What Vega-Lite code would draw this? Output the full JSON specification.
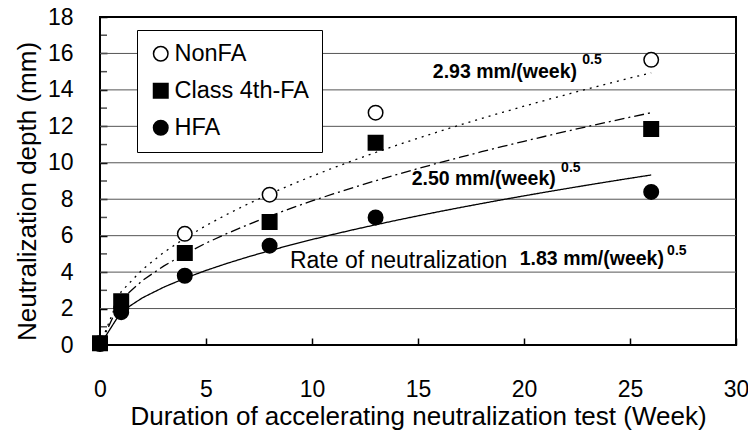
{
  "$schema": "https://vega.github.io/schema/vega-lite/v6.json",
  "autosize": "none",
  "width": 636,
  "height": 328,
  "padding": {"left": 100, "top": 17, "right": 12, "bottom": 87},
  "background": "white",
  "config": {
    "font": "Liberation Sans",
    "view": {"stroke": "black", "strokeWidth": 2},
    "axis": {
      "labelColor": "black",
      "titleColor": "black",
      "titleFontWeight": "normal",
      "domain": false,
      "tickColor": "black",
      "labelOverlap": false
    }
  },
  "resolve": {"scale": {"y": "shared", "x": "shared"}, "axis": {"y": "independent"}},
  "datasets": {
    "measured": [
      {"week": 0, "mix": "NonFA", "depth": 0.1},
      {"week": 1, "mix": "NonFA", "depth": 2.0},
      {"week": 4, "mix": "NonFA", "depth": 6.1},
      {"week": 8, "mix": "NonFA", "depth": 8.25},
      {"week": 13, "mix": "NonFA", "depth": 12.75},
      {"week": 26, "mix": "NonFA", "depth": 15.65},
      {"week": 0, "mix": "Class 4th-FA", "depth": 0.1},
      {"week": 1, "mix": "Class 4th-FA", "depth": 2.4},
      {"week": 4, "mix": "Class 4th-FA", "depth": 5.05},
      {"week": 8, "mix": "Class 4th-FA", "depth": 6.75},
      {"week": 13, "mix": "Class 4th-FA", "depth": 11.1},
      {"week": 26, "mix": "Class 4th-FA", "depth": 11.85},
      {"week": 0, "mix": "HFA", "depth": 0.05},
      {"week": 1, "mix": "HFA", "depth": 1.8},
      {"week": 4, "mix": "HFA", "depth": 3.8},
      {"week": 8, "mix": "HFA", "depth": 5.45},
      {"week": 13, "mix": "HFA", "depth": 7.0},
      {"week": 26, "mix": "HFA", "depth": 8.4}
    ],
    "fitted": [
      {"week": 0, "r293": 0, "r250": 0, "r183": 0},
      {"week": 1, "r293": 2.93, "r250": 2.5, "r183": 1.83},
      {"week": 2, "r293": 4.144, "r250": 3.536, "r183": 2.588},
      {"week": 3, "r293": 5.075, "r250": 4.33, "r183": 3.17},
      {"week": 4, "r293": 5.86, "r250": 5.0, "r183": 3.66},
      {"week": 5, "r293": 6.552, "r250": 5.59, "r183": 4.092},
      {"week": 6, "r293": 7.177, "r250": 6.124, "r183": 4.482},
      {"week": 7, "r293": 7.752, "r250": 6.614, "r183": 4.842},
      {"week": 8, "r293": 8.287, "r250": 7.071, "r183": 5.176},
      {"week": 9, "r293": 8.79, "r250": 7.5, "r183": 5.49},
      {"week": 10, "r293": 9.266, "r250": 7.906, "r183": 5.787},
      {"week": 11, "r293": 9.718, "r250": 8.292, "r183": 6.07},
      {"week": 12, "r293": 10.15, "r250": 8.66, "r183": 6.339},
      {"week": 13, "r293": 10.564, "r250": 9.014, "r183": 6.598},
      {"week": 14, "r293": 10.963, "r250": 9.354, "r183": 6.847},
      {"week": 15, "r293": 11.348, "r250": 9.682, "r183": 7.088},
      {"week": 16, "r293": 11.72, "r250": 10.0, "r183": 7.32},
      {"week": 17, "r293": 12.081, "r250": 10.308, "r183": 7.545},
      {"week": 18, "r293": 12.431, "r250": 10.607, "r183": 7.763},
      {"week": 19, "r293": 12.772, "r250": 10.897, "r183": 7.977},
      {"week": 20, "r293": 13.103, "r250": 11.18, "r183": 8.184},
      {"week": 21, "r293": 13.427, "r250": 11.456, "r183": 8.386},
      {"week": 22, "r293": 13.743, "r250": 11.726, "r183": 8.583},
      {"week": 23, "r293": 14.052, "r250": 11.99, "r183": 8.776},
      {"week": 24, "r293": 14.354, "r250": 12.247, "r183": 8.965},
      {"week": 25, "r293": 14.65, "r250": 12.5, "r183": 9.15},
      {"week": 26, "r293": 14.94, "r250": 12.748, "r183": 9.331}
    ],
    "gridlines": [
      {"depth": 2}, {"depth": 4}, {"depth": 6}, {"depth": 8},
      {"depth": 10}, {"depth": 12}, {"depth": 14}, {"depth": 16}
    ],
    "minorTicks": [
      {"depth": 1}, {"depth": 3}, {"depth": 5}, {"depth": 7}, {"depth": 9},
      {"depth": 11}, {"depth": 13}, {"depth": 15}, {"depth": 17}
    ]
  },
  "layer": [
    {
      "data": {"name": "gridlines"},
      "mark": {"type": "rule", "color": "#555555", "strokeWidth": 1},
      "encoding": {
        "y": {
          "field": "depth",
          "type": "quantitative",
          "scale": {"domain": [0, 18], "nice": false},
          "axis": {
            "orient": "left",
            "values": [2, 6, 10, 14, 18],
            "labelOverlap": false,
            "grid": false,
            "tickSize": -7,
            "tickWidth": 1.5,
            "labelFontSize": 23,
            "labelPadding": 34,
            "labelFlush": false,
            "labelBaseline": "middle",
            "title": null
          }
        }
      }
    },
    {
      "data": {"name": "minorTicks"},
      "mark": {"type": "tick", "orient": "horizontal", "color": "black", "thickness": 1.5, "size": 14, "clip": true},
      "encoding": {
        "x": {"datum": 0, "type": "quantitative"},
        "y": {"field": "depth", "type": "quantitative", "axis": null}
      }
    },
    {
      "data": {"name": "fitted"},
      "transform": [
        {"fold": ["r293", "r250", "r183"], "as": ["rate", "depth"]}
      ],
      "mark": {"type": "line", "color": "black", "strokeWidth": 1.3, "clip": true},
      "encoding": {
        "x": {
          "field": "week",
          "type": "quantitative",
          "scale": {"domain": [0, 30], "nice": false},
          "axis": {
            "values": [0, 5, 10, 15, 20, 25, 30],
            "labelOverlap": false,
            "grid": false,
            "tickSize": -7,
            "tickWidth": 1.5,
            "labelFontSize": 23,
            "labelPadding": 40,
            "labelFlush": false,
            "title": "Duration of accelerating neutralization test (Week)",
            "titleFontSize": 26,
            "titlePadding": 2
          }
        },
        "y": {
          "field": "depth",
          "type": "quantitative",
          "axis": {
            "orient": "left",
            "values": [0, 4, 8, 12, 16],
            "labelOverlap": false,
            "grid": false,
            "tickSize": -7,
            "tickWidth": 1.5,
            "labelFontSize": 23,
            "labelPadding": 34,
            "labelFlush": false,
            "labelBaseline": "middle",
            "title": "Neutralization depth (mm)",
            "titleFontSize": 26,
            "titlePadding": 7,
            "titleY": 174
          }
        },
        "detail": {"field": "rate"},
        "strokeDash": {
          "field": "rate",
          "type": "nominal",
          "scale": {"domain": ["r293", "r250", "r183"], "range": [[2, 5], [10, 4, 2, 4], [1, 0]]},
          "legend": null
        }
      }
    },
    {
      "data": {"name": "measured"},
      "mark": {"type": "point", "filled": true, "stroke": "black", "strokeWidth": 1.5, "opacity": 1},
      "encoding": {
        "x": {"field": "week", "type": "quantitative"},
        "y": {"field": "depth", "type": "quantitative", "axis": null},
        "shape": {
          "field": "mix",
          "type": "nominal",
          "scale": {"domain": ["NonFA", "Class 4th-FA", "HFA"], "range": ["circle", "square", "circle"]},
          "legend": {
            "title": null,
            "orient": "none",
            "legendX": 37,
            "legendY": 13,
            "direction": "vertical",
            "fillColor": "white",
            "strokeColor": "black",
            "padding": 12,
            "labelFontSize": 23.5,
            "labelColor": "black",
            "symbolSize": 210,
            "rowPadding": 12,
            "labelOffset": 2,
            "encode": {
              "symbols": {"update": {"stroke": {"value": "black"}, "strokeWidth": {"value": 1.5}}}
            }
          }
        },
        "fill": {
          "field": "mix",
          "type": "nominal",
          "scale": {"domain": ["NonFA", "Class 4th-FA", "HFA"], "range": ["white", "black", "black"]},
          "legend": {
            "title": null,
            "orient": "none",
            "legendX": 37,
            "legendY": 13,
            "direction": "vertical",
            "fillColor": "white",
            "strokeColor": "black",
            "padding": 12,
            "labelFontSize": 23.5,
            "labelColor": "black",
            "symbolSize": 210,
            "rowPadding": 12,
            "labelOffset": 2,
            "encode": {
              "symbols": {"update": {"stroke": {"value": "black"}, "strokeWidth": {"value": 1.5}}}
            }
          }
        },
        "size": {"value": 210}
      }
    },
    {
      "data": {"values": [
        {"x": 15.7, "y": 14.65, "label": "2.93 mm/(week)"},
        {"x": 14.7, "y": 8.78, "label": "2.50 mm/(week)"},
        {"x": 19.8, "y": 4.39, "label": "1.83 mm/(week)"}
      ]},
      "mark": {"type": "text", "align": "left", "baseline": "alphabetic", "fontSize": 19.5, "fontWeight": "bold", "color": "black"},
      "encoding": {
        "x": {"field": "x", "type": "quantitative"},
        "y": {"field": "y", "type": "quantitative", "axis": null},
        "text": {"field": "label"}
      }
    },
    {
      "data": {"values": [
        {"x": 22.75, "y": 15.4, "label": "0.5"},
        {"x": 21.75, "y": 9.5, "label": "0.5"},
        {"x": 26.75, "y": 4.95, "label": "0.5"}
      ]},
      "mark": {"type": "text", "align": "left", "baseline": "alphabetic", "fontSize": 14, "fontWeight": "bold", "color": "black"},
      "encoding": {
        "x": {"field": "x", "type": "quantitative"},
        "y": {"field": "y", "type": "quantitative", "axis": null},
        "text": {"field": "label"}
      }
    },
    {
      "data": {"values": [
        {"x": 8.96, "y": 4.23, "label": "Rate of neutralization"}
      ]},
      "mark": {"type": "text", "align": "left", "baseline": "alphabetic", "fontSize": 23, "color": "black"},
      "encoding": {
        "x": {"field": "x", "type": "quantitative"},
        "y": {"field": "y", "type": "quantitative", "axis": null},
        "text": {"field": "label"}
      }
    }
  ]
}
